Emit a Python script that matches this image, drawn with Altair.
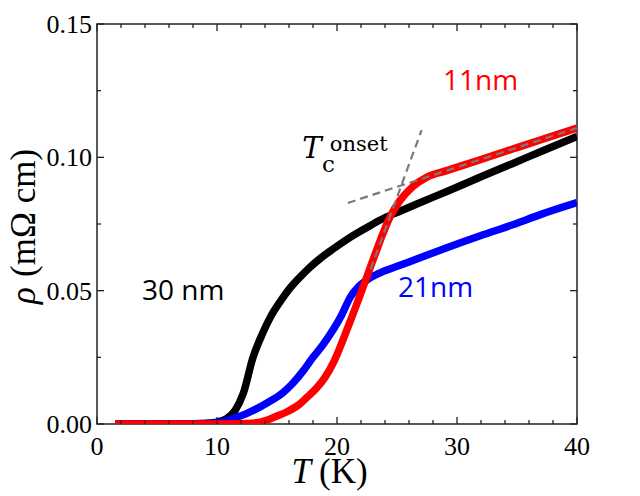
import altair as alt
import pandas as pd

# ---- data ----
T_30 = [1.5, 5, 9, 10, 10.8, 11.5, 12.2, 13, 13.8, 14.5, 15.25, 16, 16.9, 17.75, 18.5,
        19.7, 21, 22.5, 23.6, 25.25, 26.7, 29.2, 32, 34.7, 37, 40]
rho_30 = [0, 0, 0.0002, 0.0007, 0.002, 0.005, 0.0116, 0.025, 0.034, 0.0405, 0.0458, 0.0505,
          0.0550, 0.0588, 0.0617, 0.0657, 0.0697, 0.0737, 0.0765, 0.0798, 0.0826, 0.0873,
          0.0927, 0.0978, 0.1022, 0.1078]

T_21 = [1.5, 5, 9, 10.5, 11.3, 12.5, 14.2, 15.5, 16.3, 17.2, 18, 18.8, 19.7, 20.4, 21.1,
        21.8, 22.5, 23.6, 25.25, 26.7, 29.2, 32, 34.7, 37, 40]
rho_21 = [0, 0, 0.0002, 0.0008, 0.002, 0.004, 0.008, 0.0118, 0.0152, 0.020, 0.025, 0.0295,
          0.0355, 0.041, 0.0475, 0.0515, 0.054, 0.0567, 0.0595, 0.062, 0.0662, 0.0707,
          0.0748, 0.0786, 0.083]

T_11 = [1.5, 5, 10, 13, 14.2, 15, 15.8, 16.9, 17.5, 18.3, 19.0, 19.7, 20.3, 20.8, 21.4,
        22.0, 22.5, 23.0, 23.6, 24.4, 25.25, 26.3, 27.5, 29.2, 32, 34.7, 37, 40]
rho_11 = [0, 0, 0, 0.0003, 0.0015, 0.003, 0.0045, 0.0075, 0.010, 0.0135, 0.0175, 0.023,
          0.0293, 0.035, 0.042, 0.0492, 0.0553, 0.0615, 0.0688, 0.0775, 0.0838, 0.089,
          0.0926, 0.0951, 0.0992, 0.1032, 0.1066, 0.111]

# onset construction lines (dashed)
flat_T = [20.9, 40]
flat_rho = [0.0829, 0.111]
steep_T = [22.8, 27.05]
steep_rho = [0.058, 0.1102]

x_major = [0, 10, 20, 30, 40]
x_major_lbl = ["0", "10", "20", "30", "40"]
x_minor = [2, 4, 6, 8, 12, 14, 16, 18, 22, 24, 26, 28, 32, 34, 36, 38]
y_major = [0.0, 0.05, 0.10, 0.15]
y_major_lbl = ["0.00", "0.05", "0.10", "0.15"]
y_minor = [0.025, 0.075, 0.125]

labels = ["30 nm", "21nm", "11nm"]
label_T = [3.75, 25.08, 28.83]
label_rho = [0.0465, 0.0476, 0.1252]
label_color = ["#000000", "#0000FF", "#FF0000"]

W, H = 480, 400
xs = alt.Scale(domain=[0, 40], nice=False, zero=False)
ys = alt.Scale(domain=[0, 0.15], nice=False, zero=False)
SERIF = "Liberation Serif"


def X(f):
    return alt.X(f, scale=xs, axis=None)


def Y(f):
    return alt.Y(f, scale=ys, axis=None)


def curve(T, rho, color):
    df = pd.DataFrame({"T": T, "rho": rho})
    return alt.Chart(df).mark_line(color=color, strokeWidth=7.5, interpolate="monotone",
                                   clip=True).encode(x=X("T:Q"), y=Y("rho:Q"))


black = curve(T_30, rho_30, "#000000")
blue = curve(T_21, rho_21, "#0000FF")
red = curve(T_11, rho_11, "#FF0000")


def dashed(T, rho):
    df = pd.DataFrame({"T": T, "rho": rho})
    return alt.Chart(df).mark_line(color="#7a7a7a", strokeWidth=2.2, strokeDash=[8, 5],
                                   clip=True).encode(x=X("T:Q"), y=Y("rho:Q"))


d1 = dashed(flat_T, flat_rho)
d2 = dashed(steep_T, steep_rho)


# inward ticks on all four sides
def xticks(vals, length):
    base = alt.Chart(pd.DataFrame({"t": vals}))
    bot = base.mark_rule(color="#222", strokeWidth=1.3).encode(
        x=X("t:Q"), y=alt.value(H), y2=alt.value(H - length))
    top = base.mark_rule(color="#222", strokeWidth=1.3).encode(
        x=X("t:Q"), y=alt.value(0), y2=alt.value(length))
    return [bot, top]


def yticks(vals, length):
    base = alt.Chart(pd.DataFrame({"t": vals}))
    left = base.mark_rule(color="#222", strokeWidth=1.3).encode(
        y=Y("t:Q"), x=alt.value(0), x2=alt.value(length))
    right = base.mark_rule(color="#222", strokeWidth=1.3).encode(
        y=Y("t:Q"), x=alt.value(W), x2=alt.value(W - length))
    return [left, right]


tick_layers = xticks(x_major, 7) + xticks(x_minor, 4) + yticks(y_major, 7) + yticks(y_minor, 4)

# tick labels
xl = alt.Chart(pd.DataFrame({"t": x_major, "s": x_major_lbl})).mark_text(
    font=SERIF, fontSize=26, align="center", baseline="alphabetic", color="black").encode(
    x=X("t:Q"), y=alt.value(H + 31), text="s:N")
yl = alt.Chart(pd.DataFrame({"t": y_major, "s": y_major_lbl})).mark_text(
    font=SERIF, fontSize=26, align="right", baseline="alphabetic", color="black", dy=9).encode(
    y=Y("t:Q"), x=alt.value(-5), text="s:N")

# curve labels
lab_df = pd.DataFrame({"label": labels, "T": label_T, "rho": label_rho, "color": label_color})
lab = alt.Chart(lab_df).mark_text(font="Open Sans", fontSize=28, align="left",
                                  baseline="alphabetic").encode(
    x=X("T:Q"), y=Y("rho:Q"), text="label:N", color=alt.Color("color:N", scale=None))

# T_c^onset annotation
tc_T = alt.Chart(pd.DataFrame({"txt": ["T"], "T": [17.1], "rho": [0.0997]})).mark_text(
    font="DejaVu Serif", fontStyle="italic", fontSize=29, align="left", baseline="alphabetic",
    color="black").encode(x=X("T:Q"), y=Y("rho:Q"), text="txt:N")
tc_c = alt.Chart(pd.DataFrame({"txt": ["c"], "T": [18.75], "rho": [0.0945]})).mark_text(
    font="DejaVu Serif", fontSize=23, align="left", baseline="alphabetic",
    color="black").encode(x=X("T:Q"), y=Y("rho:Q"), text="txt:N")
tc_o = alt.Chart(pd.DataFrame({"txt": ["onset"], "T": [19.4], "rho": [0.1025]})).mark_text(
    font="DejaVu Serif", fontSize=21, align="left", baseline="alphabetic",
    color="black").encode(x=X("T:Q"), y=Y("rho:Q"), text="txt:N")

# axis titles (mixed italic / upright)
one = pd.DataFrame({"a": [0]})
xt1 = alt.Chart(one).mark_text(text="T", font=SERIF, fontStyle="italic", fontSize=35,
                               align="right", baseline="alphabetic", color="black").encode(
    x=alt.value(214), y=alt.value(459))
xt2 = alt.Chart(one).mark_text(text="(K)", font=SERIF, fontSize=35,
                               align="left", baseline="alphabetic", color="black").encode(
    x=alt.value(222), y=alt.value(459))
yt1 = alt.Chart(one).mark_text(text="ρ", font=SERIF, fontStyle="italic", fontSize=35, angle=270,
                               align="left", baseline="alphabetic", color="black").encode(
    x=alt.value(-62), y=alt.value(280))
yt2 = alt.Chart(one).mark_text(text="(mΩ cm)", font=SERIF, fontSize=35, angle=270,
                               align="left", baseline="alphabetic", color="black").encode(
    x=alt.value(-62), y=alt.value(253))

chart = alt.layer(
    black, blue, red, d1, d2, *tick_layers, xl, yl, lab, tc_T, tc_c, tc_o, xt1, xt2, yt1, yt2
).properties(
    width=W, height=H,
    autosize=alt.AutoSizeParams(type="none"),
    padding={"left": 89, "top": 16, "right": 40, "bottom": 72},
    background="white",
).configure_view(
    stroke="#222", strokeWidth=1.5
)

chart.save("out.html", embed_options={"renderer": "svg", "actions": False})
